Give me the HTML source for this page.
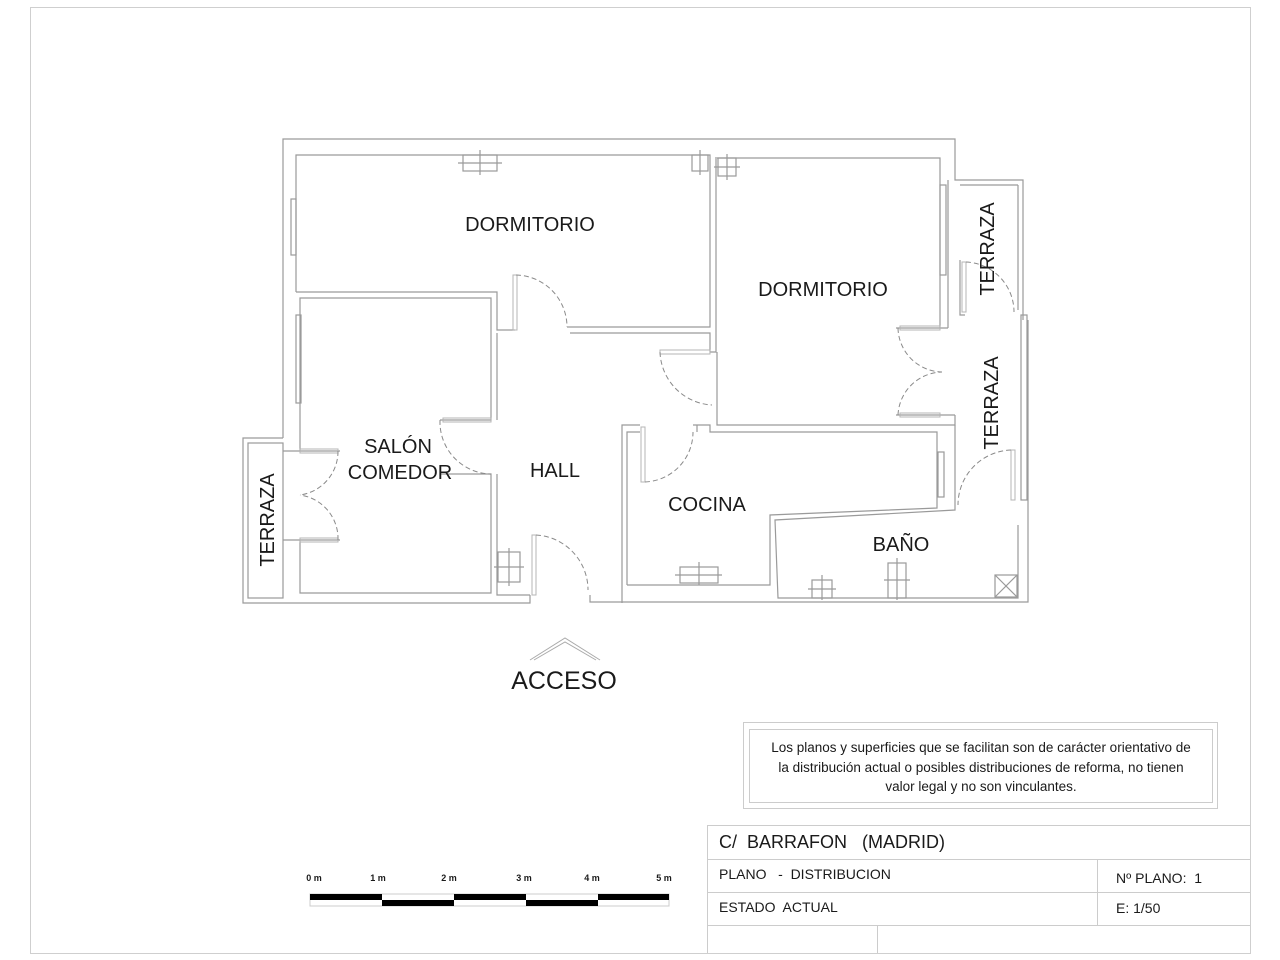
<!DOCTYPE html>
<html><head><meta charset="utf-8"><style>
html,body{margin:0;padding:0;background:#fff;}
svg{display:block;}
text{font-family:"Liberation Sans",sans-serif;fill:#1a1a1a;white-space:pre;}
</style></head><body>
<svg width="1280" height="960" viewBox="0 0 1280 960" xmlns="http://www.w3.org/2000/svg">
<g fill="none" stroke="#cfcfcf" stroke-width="1">
<rect x="30.5" y="7.5" width="1220" height="946"/>
</g>
<g fill="none" stroke="#9a9a9a" stroke-width="1.2">
<polyline points="283,438 283,139 955,139 955,180 1023,180 1023,320"/>
<polyline points="1028,320 1028,602 590,602 590,595"/>
<polyline points="530,595 530,603 243,603 243,438 283,438"/>
<rect x="248" y="443" width="35" height="155"/>
<polyline points="1018,185 1018,310"/>
<polyline points="960,185 1018,185"/>
<polyline points="296,292 296,155 710,155 710,327 567,327"/>
<polyline points="296,292 497,292 497,330 515,330"/>
<rect x="291" y="199" width="5" height="56"/>
<rect x="296" y="315" width="5" height="88"/>
<polyline points="570,333 710,333 710,352 716,352 716,157"/>
<polyline points="717,158 940,158 940,328 948,328"/>
<polyline points="717,352 717,425 955,425 955,415"/>
<polyline points="896,328 940,328"/>
<polyline points="896,415 955,415"/>
<rect x="940" y="185" width="6" height="90"/>
<polyline points="948,180 948,328"/>
<polyline points="960,260 960,315 965,315"/>
<polyline points="300,451 300,298 491,298 491,420 440,420"/>
<polyline points="440,474 491,474 491,593 300,593 300,540"/>
<polyline points="497,333 497,420"/>
<polyline points="497,474 497,595 530,595"/>
<polyline points="283,451 340,451"/>
<polyline points="283,540 340,540"/>
<rect x="498" y="552" width="22" height="30"/>
<line x1="509" y1="548" x2="509" y2="586"/>
<line x1="494" y1="567" x2="524" y2="567"/>
<polyline points="622,603 622,425 640,425"/>
<polyline points="627,585 627,432 640,432"/>
<polyline points="693,425 710,425 710,432 937,432 937,508 770,515 770,585 627,585"/>
<polyline points="697,432 697,425"/>
<rect x="938" y="452" width="6" height="45"/>
<polyline points="955,425 955,510 775,520 778,598 1018,598 1018,525"/>
<rect x="680" y="567" width="38" height="16"/>
<line x1="699" y1="562" x2="699" y2="585"/>
<line x1="675" y1="575" x2="722" y2="575"/>
<rect x="812" y="580" width="20" height="18"/>
<line x1="822" y1="575" x2="822" y2="600"/>
<line x1="808" y1="589" x2="836" y2="589"/>
<rect x="888" y="563" width="18" height="35"/>
<line x1="897" y1="558" x2="897" y2="600"/>
<line x1="884" y1="580" x2="910" y2="580"/>
<rect x="995" y="575" width="22" height="22"/>
<line x1="995" y1="575" x2="1017" y2="597"/>
<line x1="1017" y1="575" x2="995" y2="597"/>
<rect x="1021" y="315" width="6" height="185"/>
<rect x="463" y="155" width="34" height="16"/>
<line x1="480" y1="150" x2="480" y2="175"/>
<line x1="458" y1="163" x2="502" y2="163"/>
<rect x="692" y="155" width="16" height="16"/>
<line x1="700" y1="150" x2="700" y2="175"/>
<rect x="718" y="158" width="18" height="18"/>
<line x1="727" y1="154" x2="727" y2="180"/>
<line x1="714" y1="167" x2="740" y2="167"/>
</g>
<g fill="none" stroke="#b5b5b5" stroke-width="1">
<rect x="513" y="275" width="4" height="55"/>
<rect x="443" y="418" width="48" height="4"/>
<rect x="300" y="449" width="38" height="4"/>
<rect x="300" y="538" width="38" height="4"/>
<rect x="532" y="535" width="4" height="60"/>
<rect x="660" y="350" width="50" height="4"/>
<rect x="641" y="427" width="4" height="55"/>
<rect x="900" y="326" width="40" height="4"/>
<rect x="900" y="413" width="40" height="4"/>
<rect x="962" y="262" width="4" height="50"/>
<rect x="1011" y="450" width="4" height="50"/>
</g>
<g fill="none" stroke="#8a8a8a" stroke-width="1" stroke-dasharray="5,3">
<path d="M516,275 A52,52 0 0 1 567,327"/>
<path d="M440,420 A52,52 0 0 0 491,474"/>
<path d="M338,451 A44,44 0 0 1 300,495"/>
<path d="M338,540 A44,44 0 0 0 300,495"/>
<path d="M536,535 A55,55 0 0 1 588,590"/>
<path d="M660,352 A55,55 0 0 0 712,405"/>
<path d="M645,482 A50,50 0 0 0 693,432"/>
<path d="M898,328 A45,45 0 0 0 942,372"/>
<path d="M898,415 A45,45 0 0 1 942,372"/>
<path d="M966,262 A50,50 0 0 1 1014,312"/>
<path d="M1011,450 A55,55 0 0 0 958,505"/>
</g>
<polyline points="530,660 565,638 600,660" fill="none" stroke="#aaa" stroke-width="1"/>
<polyline points="534,660 565,642 596,660" fill="none" stroke="#aaa" stroke-width="1"/>
<text x="530" y="231" font-size="20" text-anchor="middle">DORMITORIO</text>
<text x="823" y="296" font-size="20" text-anchor="middle">DORMITORIO</text>
<text x="398" y="453" font-size="20" text-anchor="middle">SALÓN</text>
<text x="400" y="479" font-size="20" text-anchor="middle">COMEDOR</text>
<text x="555" y="477" font-size="20" text-anchor="middle">HALL</text>
<text x="707" y="511" font-size="20" text-anchor="middle">COCINA</text>
<text x="901" y="551" font-size="20" text-anchor="middle">BAÑO</text>
<text transform="translate(994,249) rotate(-90)" font-size="20" text-anchor="middle">TERRAZA</text>
<text transform="translate(998,403) rotate(-90)" font-size="20" text-anchor="middle">TERRAZA</text>
<text transform="translate(274,520) rotate(-90)" font-size="20" text-anchor="middle">TERRAZA</text>
<text x="564" y="689" font-size="25" text-anchor="middle">ACCESO</text>
<rect x="743.5" y="722.5" width="474" height="86" fill="none" stroke="#ccc"/>
<rect x="749.5" y="729.5" width="463" height="73" fill="none" stroke="#ccc"/>
<g font-size="13.5" text-anchor="middle" fill="#333">
<text x="981" y="752">Los planos y superficies que se facilitan son de carácter orientativo de</text>
<text x="981" y="772">la distribución actual o posibles distribuciones de reforma, no tienen</text>
<text x="981" y="791">valor legal y no son vinculantes.</text>
</g>
<g fill="none" stroke="#ccc" stroke-width="1">
<polyline points="707.5,953 707.5,825.5 1250,825.5"/>
<line x1="707" y1="859.5" x2="1250" y2="859.5"/>
<line x1="707" y1="892.5" x2="1250" y2="892.5"/>
<line x1="707" y1="925.5" x2="1250" y2="925.5"/>
<line x1="1097.5" y1="859" x2="1097.5" y2="925"/>
<line x1="877.5" y1="925" x2="877.5" y2="953"/>
</g>
<text x="719" y="848" font-size="18">C/  BARRAFON   (MADRID)</text>
<text x="719" y="879" font-size="14">PLANO   -  DISTRIBUCION</text>
<text x="719" y="912" font-size="14">ESTADO  ACTUAL</text>
<text x="1116" y="883" font-size="14">Nº PLANO:  1</text>
<text x="1116" y="913" font-size="14">E: 1/50</text>
<g font-size="9" font-weight="bold" text-anchor="middle">
<text x="314" y="881">0 m</text><text x="378" y="881">1 m</text><text x="449" y="881">2 m</text>
<text x="524" y="881">3 m</text><text x="592" y="881">4 m</text><text x="664" y="881">5 m</text>
</g>
<rect x="310" y="894" width="359" height="12" fill="none" stroke="#ccc"/>
<rect x="310" y="894" width="72" height="6" fill="#000"/>
<rect x="454" y="894" width="72" height="6" fill="#000"/>
<rect x="598" y="894" width="71" height="6" fill="#000"/>
<rect x="382" y="900" width="72" height="6" fill="#000"/>
<rect x="526" y="900" width="72" height="6" fill="#000"/>
</svg>
</body></html>
